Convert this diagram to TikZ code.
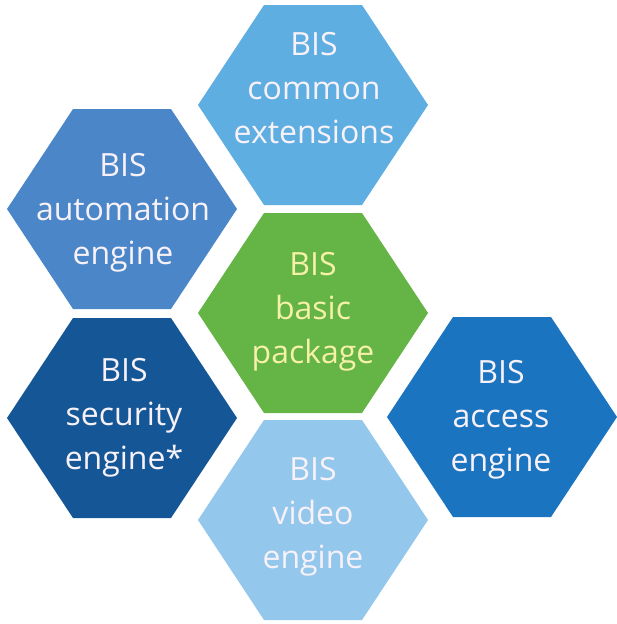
\documentclass[tikz,border=0pt]{standalone}
\usepackage{fontspec}
\setmainfont{Open Sans}
\definecolor{ccommon}{HTML}{5EAEE2}
\definecolor{cauto}{HTML}{4A86C8}
\definecolor{cbasic}{HTML}{64B446}
\definecolor{csecurity}{HTML}{155796}
\definecolor{caccess}{HTML}{1A74BF}
\definecolor{cvideo}{HTML}{93C7EC}
\definecolor{tlight}{HTML}{F8F2F8}
\definecolor{tyellow}{HTML}{F6F1A8}
\tikzset{
  hexa/.pic={\path[pic actions] (-115,0) -- (-49,-100) -- (49,-100) -- (115,0) -- (49,100) -- (-49,100) -- cycle;},
  lbl/.style={anchor=north, inner sep=0pt, align=center, text=tlight,
    font=\fontsize{32}{44}\selectfont},
}
\begin{document}
\begin{tikzpicture}[x=1pt,y=-1pt]
\useasboundingbox (0,0) rectangle (617,624);
\pic[fill=ccommon] at (313,105) {hexa};
\pic[fill=cauto] at (122,209) {hexa};
\pic[fill=cbasic] at (313,313) {hexa};
\pic[fill=csecurity] at (122,418) {hexa};
\pic[fill=caccess] at (502,417) {hexa};
\pic[fill=cvideo] at (313,520) {hexa};
\node[lbl] (tcommon) at (314,32) {BIS\\common\\extensions};
\node[lbl] (tauto) at (123,153) {BIS\\automation\\engine};
\node[lbl, text=tyellow] (tbasic) at (313,252) {BIS\\basic\\package};
\node[lbl] (tsecurity) at (124,358) {BIS\\security\\engine*};
\node[lbl] (taccess) at (501,360) {BIS\\access\\engine};
\node[lbl] (tvideo) at (313,457) {BIS\\video\\engine};
\end{tikzpicture}
\end{document}
